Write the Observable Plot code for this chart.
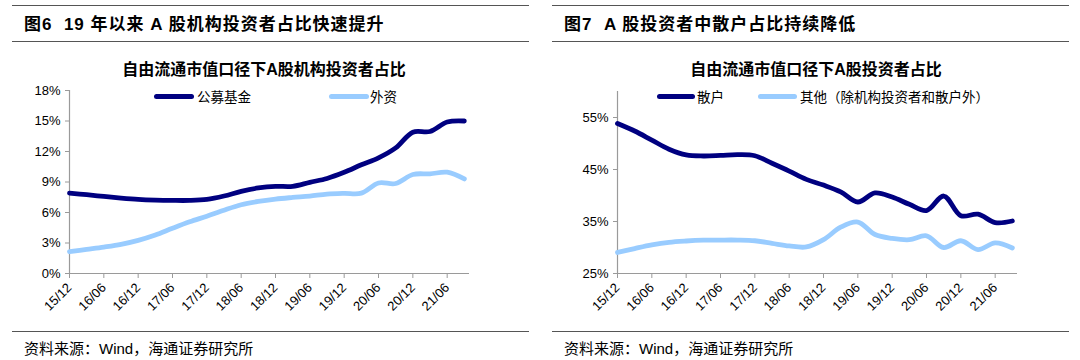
<!DOCTYPE html>
<html>
<head>
<meta charset="utf-8">
<script src="https://cdn.jsdelivr.net/npm/d3@7"></script>
<script src="https://cdn.jsdelivr.net/npm/@observablehq/plot@0.6"></script>
<style>
  html, body { margin: 0; padding: 0; background: #fff; }
  body { width: 1080px; height: 360px; position: relative; overflow: hidden;
         font-family: "Liberation Sans", "Noto Sans CJK SC", sans-serif; color: #000; }
  .panel { position: absolute; top: 0; width: 540px; height: 360px; }
  .rule { position: absolute; left: 12px; width: 517px; height: 0; border-top: 1.5px solid #555; }
  .heading { position: absolute; left: 24px; top: 15px; font-size: 17px; line-height: 20px;
             font-weight: bold; white-space: pre; letter-spacing: 1px; }
  .ctitle { position: absolute; top: 60px; font-size: 16px; line-height: 20px; font-weight: bold;
            white-space: nowrap; transform: translateX(-50%);
            font-family: "Liberation Sans", "Noto Sans CJK SC", sans-serif; }
  .chart { position: absolute; left: 0; top: 80px; }
  .chart svg { overflow: visible; }
  .lg-line { position: absolute; height: 5px; border-radius: 3px; }
  .lg-text { position: absolute; font-size: 13.5px; line-height: 16px; white-space: nowrap;
             font-family: "Noto Sans CJK SC", sans-serif; }
  .foot { position: absolute; left: 24px; top: 340px; font-size: 15px; line-height: 18px;
          white-space: nowrap; font-family: "Liberation Sans", "Noto Sans CJK SC", sans-serif; }
</style>
</head>
<body>
<div class="panel" id="p1" style="left:0">
  <div class="rule" style="top:5px"></div>
  <div class="heading">图6  19 年以来 A 股机构投资者占比快速提升</div>
  <div class="rule" style="top:41px"></div>
  <div class="ctitle" style="left:264px">自由流通市值口径下A股机构投资者占比</div>
  <div class="chart" id="chart1"></div>
  <div class="lg-line" id="lg1a" style="left:154px;top:94px;width:40px"></div>
  <div class="lg-text" id="lt1a" style="left:197px;top:88px"></div>
  <div class="lg-line" id="lg1b" style="left:329px;top:94px;width:40px"></div>
  <div class="lg-text" id="lt1b" style="left:370px;top:88px"></div>
  <div class="rule" style="top:331px"></div>
  <div class="foot">资料来源：Wind，海通证券研究所</div>
</div>
<div class="panel" id="p2" style="left:540px">
  <div class="rule" style="top:5px"></div>
  <div class="heading">图7  A 股投资者中散户占比持续降低</div>
  <div class="rule" style="top:41px"></div>
  <div class="ctitle" style="left:276px">自由流通市值口径下A股投资者占比</div>
  <div class="chart" id="chart2"></div>
  <div class="lg-line" id="lg2a" style="left:117px;top:94px;width:38px"></div>
  <div class="lg-text" id="lt2a" style="left:157px;top:88px"></div>
  <div class="lg-line" id="lg2b" style="left:218px;top:94px;width:39px"></div>
  <div class="lg-text" id="lt2b" style="left:260px;top:88px"></div>
  <div class="rule" style="top:331px"></div>
  <div class="foot">资料来源：Wind，海通证券研究所</div>
</div>
<script>
// ---- data (quarterly, 15/12 .. 21/09) ----
const quarters = ["15/12","16/03","16/06","16/09","16/12","17/03","17/06","17/09","17/12","18/03","18/06","18/09",
                  "18/12","19/03","19/06","19/09","19/12","20/03","20/06","20/09","20/12","21/03","21/06","21/09"];
const seriesLeft = ["公募基金", "外资"];
const fundShare    = [7.90, 7.75, 7.58, 7.42, 7.29, 7.22, 7.19, 7.19, 7.29, 7.62, 8.08, 8.41,
                      8.57, 8.57, 8.97, 9.35, 9.95, 10.69, 11.38, 12.36, 13.90, 13.97, 14.90, 15.00];
const foreignShare = [2.14, 2.37, 2.60, 2.87, 3.26, 3.79, 4.45, 5.08, 5.64, 6.23, 6.76, 7.09,
                      7.32, 7.48, 7.62, 7.81, 7.88, 7.90, 8.90, 8.85, 9.74, 9.80, 9.96, 9.30];
const seriesRight = ["散户", "其他（除机构投资者和散户外）"];
const retailShare  = [53.85, 52.40, 50.65, 48.90, 47.80, 47.60, 47.70, 47.85, 47.65, 46.20, 44.70, 43.10,
                      42.00, 40.70, 38.75, 40.50, 39.70, 38.30, 37.10, 39.90, 36.10, 36.40, 34.80, 35.10];
const otherShare   = [29.05, 29.80, 30.50, 31.00, 31.25, 31.40, 31.43, 31.43, 31.30, 30.80, 30.30, 30.10,
                      31.50, 33.90, 34.90, 32.50, 31.75, 31.50, 32.25, 30.00, 31.30, 29.60, 30.90, 29.90];
const leftYTicks  = [0, 3, 6, 9, 12, 15, 18];
const rightYTicks = [25, 35, 45, 55];
const xTickIndex  = quarters.map((q, i) => i).filter(i => i % 2 === 0);
const colors = ["#000080", "#99CCFF"];

function toRows(names, arrays) {
  const rows = [];
  names.forEach((name, k) => arrays[k].forEach((v, i) => rows.push({i, q: quarters[i], v, s: name})));
  return rows;
}

function makeChart({names, arrays, yDomain, yTicks, marginLeft, marginRight, marginTop, marginBottom}) {
  const rows = toRows(names, arrays);
  return Plot.plot({
    width: 540, height: 230,
    marginLeft, marginRight, marginTop, marginBottom,
    x: {type: "linear", domain: [0, 23.3]},
    y: {domain: yDomain},
    color: {domain: names, range: colors},
    style: {fontFamily: "'Liberation Sans', Arial, sans-serif", fontSize: "13px", color: "#000", overflow: "visible"},
    marks: [
      Plot.ruleX([0], {stroke: "#9a9a9a", strokeWidth: 1.2}),
      Plot.ruleY([yDomain[0]], {stroke: "#9a9a9a", strokeWidth: 1.2}),
      Plot.axisY({ticks: yTicks, tickFormat: d => d + "%", tickSize: 4, tickPadding: 5,
                  stroke: "#9a9a9a", fill: "#000", fontSize: 13, label: null}),
      Plot.axisX({ticks: xTickIndex, tickFormat: i => quarters[i], tickSize: 5, tickPadding: 7,
                  tickRotate: -45, stroke: "#9a9a9a", fill: "#000", fontSize: 13, label: null}),
      Plot.line(rows, {x: "i", y: "v", z: "s", stroke: "s", strokeWidth: 4.8,
                       curve: "catmull-rom", strokeLinecap: "round", strokeLinejoin: "round"})
    ]
  });
}

document.getElementById("chart1").appendChild(makeChart({
  names: seriesLeft, arrays: [fundShare, foreignShare], yDomain: [0, 18], yTicks: leftYTicks,
  marginLeft: 69, marginRight: 71, marginTop: 10, marginBottom: 37
}));
document.getElementById("chart2").appendChild(makeChart({
  names: seriesRight, arrays: [retailShare, otherShare], yDomain: [25, 60], yTicks: rightYTicks,
  marginLeft: 77, marginRight: 63, marginTop: 11, marginBottom: 37
}));

// legends (HTML)
document.getElementById("lg1a").style.background = colors[0];
document.getElementById("lg1b").style.background = colors[1];
document.getElementById("lg2a").style.background = colors[0];
document.getElementById("lg2b").style.background = colors[1];
document.getElementById("lt1a").textContent = seriesLeft[0];
document.getElementById("lt1b").textContent = seriesLeft[1];
document.getElementById("lt2a").textContent = seriesRight[0];
document.getElementById("lt2b").textContent = seriesRight[1];
</script>
</body>
</html>
